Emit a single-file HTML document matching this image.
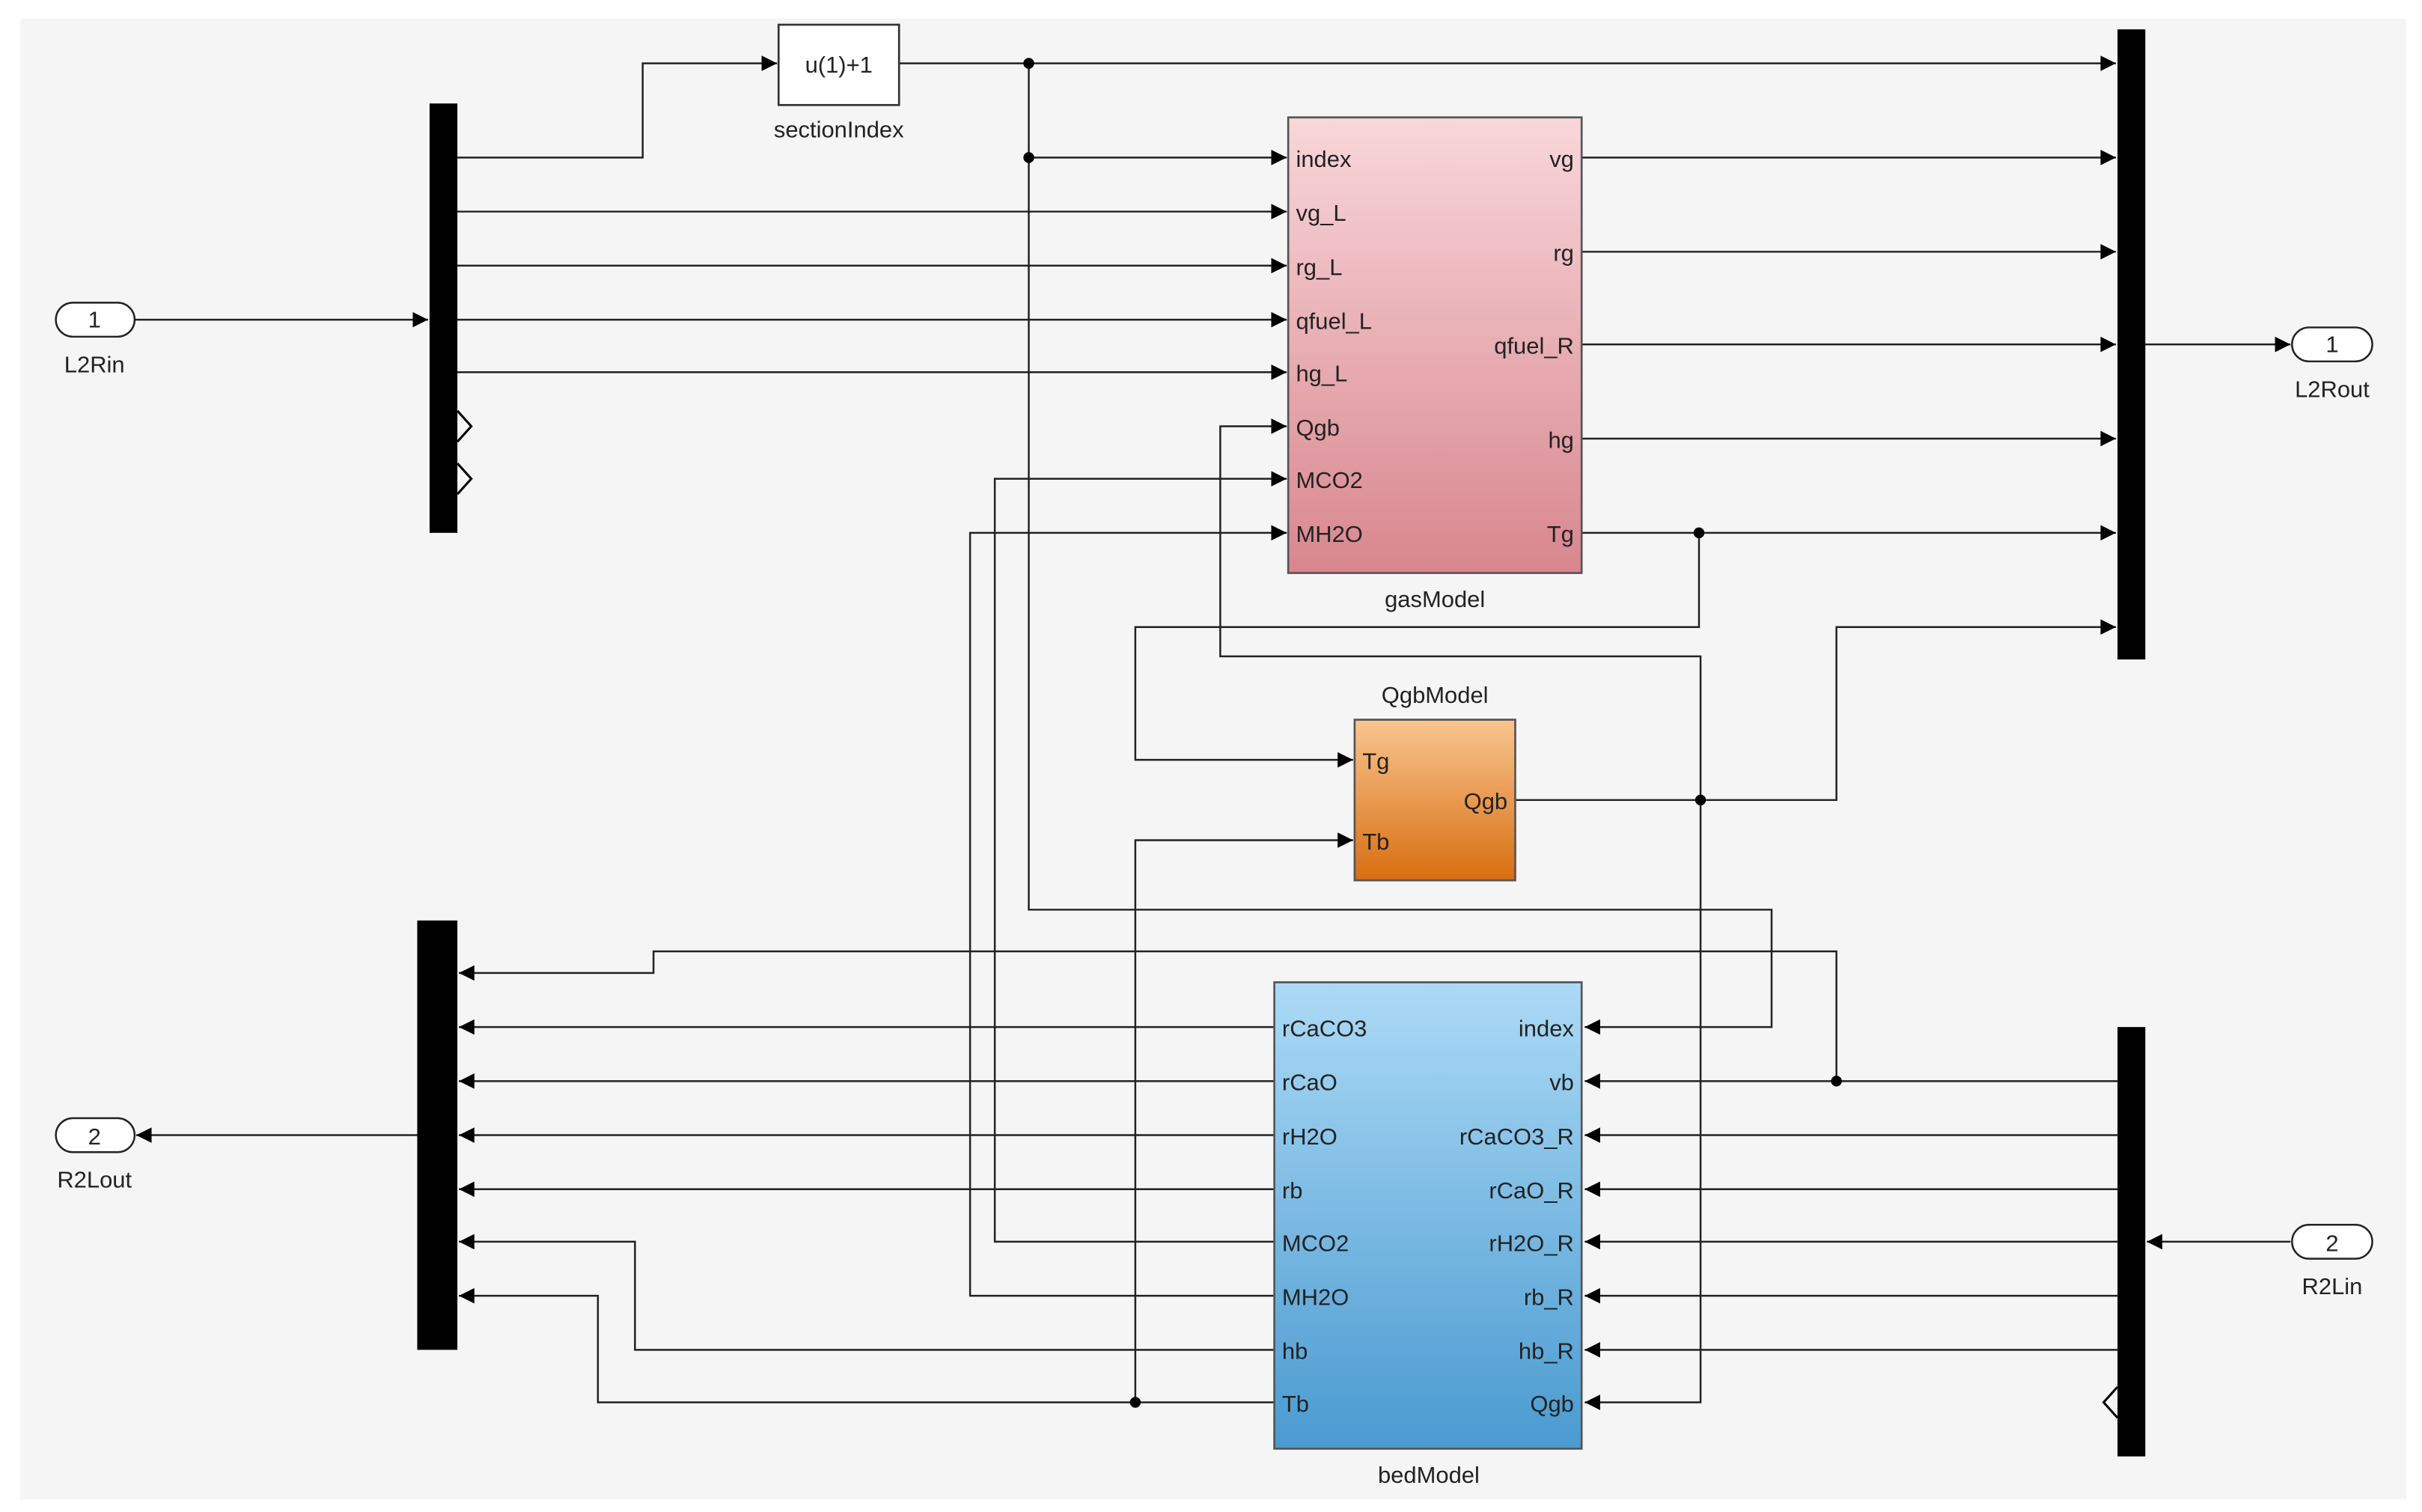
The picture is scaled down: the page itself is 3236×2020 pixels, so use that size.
<!DOCTYPE html>
<html><head><meta charset="utf-8"><style>
html,body{margin:0;padding:0;background:#fff;}
svg{display:block;}
text{font-family:"Liberation Sans",Arial,sans-serif;font-size:15px;fill:#222;}
</style></head><body>
<svg width="3236" height="2020" viewBox="0 0 1568 979" xmlns="http://www.w3.org/2000/svg">
<defs>
<linearGradient id="gp" x1="0" y1="0" x2="0" y2="1"><stop offset="0" stop-color="#f8d7da"/><stop offset="1" stop-color="#d8868e"/></linearGradient>
<linearGradient id="go" x1="0" y1="0" x2="0" y2="1"><stop offset="0" stop-color="#f8c590"/><stop offset="1" stop-color="#d86e10"/></linearGradient>
<linearGradient id="gb" x1="0" y1="0" x2="0" y2="1"><stop offset="0" stop-color="#acdaf6"/><stop offset="1" stop-color="#4a9ad0"/></linearGradient>
<marker id="a" viewBox="0 0 10 10" refX="10" refY="5" markerWidth="10" markerHeight="10" markerUnits="userSpaceOnUse" orient="auto"><path d="M0,0 L10,5 L0,10 z" fill="#000"/></marker>
</defs>
<rect x="13" y="12" width="1545" height="959" fill="#f5f5f5"/>
<g fill="none" stroke="#222" stroke-width="1.2">
<!-- inport 1 -->
<path d="M87,207 H277" marker-end="url(#a)"/>
<path d="M296,102 H416 V41 H503" marker-end="url(#a)"/>
<path d="M582,41 H1370" marker-end="url(#a)"/>
<path d="M666,41 V589 H1147 V665 H1026" marker-end="url(#a)"/>
<path d="M666,102 H833" marker-end="url(#a)"/>
<path d="M296,137 H833" marker-end="url(#a)"/>
<path d="M296,172 H833" marker-end="url(#a)"/>
<path d="M296,207 H833" marker-end="url(#a)"/>
<path d="M296,241 H833" marker-end="url(#a)"/>
<path d="M1101,518 V425 H790 V276 H833" marker-end="url(#a)"/>
<path d="M825,804 H644 V310 H833" marker-end="url(#a)"/>
<path d="M825,839 H628 V345 H833" marker-end="url(#a)"/>
<path d="M1024,102 H1370" marker-end="url(#a)"/>
<path d="M1024,163 H1370" marker-end="url(#a)"/>
<path d="M1024,223 H1370" marker-end="url(#a)"/>
<path d="M1024,284 H1370" marker-end="url(#a)"/>
<path d="M1024,345 H1370" marker-end="url(#a)"/>
<path d="M1100,345 V406 H735 V492 H876" marker-end="url(#a)"/>
<path d="M981,518 H1189 V406 H1370" marker-end="url(#a)"/>
<path d="M1101,518 V908 H1026" marker-end="url(#a)"/>
<path d="M1389,223 H1483" marker-end="url(#a)"/>
<path d="M825,908 H387 V839 H297" marker-end="url(#a)"/>
<path d="M735,908 V544 H876" marker-end="url(#a)"/>
<path d="M825,874 H411 V804 H297" marker-end="url(#a)"/>
<path d="M825,770 H297" marker-end="url(#a)"/>
<path d="M825,735 H297" marker-end="url(#a)"/>
<path d="M825,700 H297" marker-end="url(#a)"/>
<path d="M825,665 H297" marker-end="url(#a)"/>
<path d="M1189,700 V616 H423 V630 H297" marker-end="url(#a)"/>
<path d="M270,735 H88" marker-end="url(#a)"/>
<path d="M1371,700 H1026" marker-end="url(#a)"/>
<path d="M1371,735 H1026" marker-end="url(#a)"/>
<path d="M1371,770 H1026" marker-end="url(#a)"/>
<path d="M1371,804 H1026" marker-end="url(#a)"/>
<path d="M1371,839 H1026" marker-end="url(#a)"/>
<path d="M1371,874 H1026" marker-end="url(#a)"/>
<path d="M1483,804 H1390" marker-end="url(#a)"/>
</g>
<g fill="#000">
<circle cx="666" cy="41" r="3.5"/><circle cx="666" cy="102" r="3.5"/>
<circle cx="1100" cy="345" r="3.5"/><circle cx="1101" cy="518" r="3.5"/>
<circle cx="735" cy="908" r="3.5"/><circle cx="1189" cy="700" r="3.5"/>
</g>
<!-- bars -->
<rect x="278" y="67" width="18" height="278" fill="#000"/>
<path d="M296,266 L305,276 L296,286 M296,300 L305,310 L296,320" fill="none" stroke="#000" stroke-width="1.5"/>
<rect x="1371" y="19" width="18" height="408" fill="#000"/>
<rect x="270" y="596" width="26" height="278" fill="#000"/>
<rect x="1371" y="665" width="18" height="278" fill="#000"/>
<path d="M1371,898 L1362,908 L1371,918" fill="none" stroke="#000" stroke-width="1.5"/>
<!-- ports -->
<g fill="#fff" stroke="#222" stroke-width="1.2">
<rect x="36" y="196" width="51" height="22" rx="11"/>
<rect x="1484" y="212" width="52" height="22" rx="11"/>
<rect x="36" y="724" width="51" height="22" rx="11"/>
<rect x="1484" y="793" width="52" height="22" rx="11"/>
</g>
<g text-anchor="middle">
<text x="61" y="212">1</text><text x="61" y="241">L2Rin</text>
<text x="1510" y="228">1</text><text x="1510" y="257">L2Rout</text>
<text x="61" y="741">2</text><text x="61" y="769">R2Lout</text>
<text x="1510" y="810">2</text><text x="1510" y="838">R2Lin</text>
</g>
<!-- blocks -->
<rect x="504" y="16" width="78" height="52" fill="#fff" stroke="#333" stroke-width="1.3"/>
<text x="543" y="47" text-anchor="middle">u(1)+1</text>
<text x="543" y="89" text-anchor="middle">sectionIndex</text>
<rect x="834" y="76" width="190" height="295" fill="url(#gp)" stroke="#555" stroke-width="1.3"/>
<text x="929" y="393" text-anchor="middle">gasModel</text>
<g>
<text x="839" y="108">index</text><text x="839" y="143">vg_L</text><text x="839" y="178">rg_L</text>
<text x="839" y="213">qfuel_L</text><text x="839" y="247">hg_L</text><text x="839" y="282">Qgb</text>
<text x="839" y="316">MCO2</text><text x="839" y="351">MH2O</text>
</g>
<g text-anchor="end">
<text x="1019" y="108">vg</text><text x="1019" y="169">rg</text><text x="1019" y="229">qfuel_R</text>
<text x="1019" y="290">hg</text><text x="1019" y="351">Tg</text>
</g>
<rect x="877" y="466" width="104" height="104" fill="url(#go)" stroke="#555" stroke-width="1.3"/>
<text x="929" y="455" text-anchor="middle">QgbModel</text>
<text x="882" y="498">Tg</text><text x="882" y="550">Tb</text>
<text x="976" y="524" text-anchor="end">Qgb</text>
<rect x="825" y="636" width="199" height="302" fill="url(#gb)" stroke="#555" stroke-width="1.3"/>
<text x="925" y="960" text-anchor="middle">bedModel</text>
<g>
<text x="830" y="671">rCaCO3</text><text x="830" y="706">rCaO</text><text x="830" y="741">rH2O</text>
<text x="830" y="776">rb</text><text x="830" y="810">MCO2</text><text x="830" y="845">MH2O</text>
<text x="830" y="880">hb</text><text x="830" y="914">Tb</text>
</g>
<g text-anchor="end">
<text x="1019" y="671">index</text><text x="1019" y="706">vb</text><text x="1019" y="741">rCaCO3_R</text>
<text x="1019" y="776">rCaO_R</text><text x="1019" y="810">rH2O_R</text><text x="1019" y="845">rb_R</text>
<text x="1019" y="880">hb_R</text><text x="1019" y="914">Qgb</text>
</g>
</svg>
</body></html>
